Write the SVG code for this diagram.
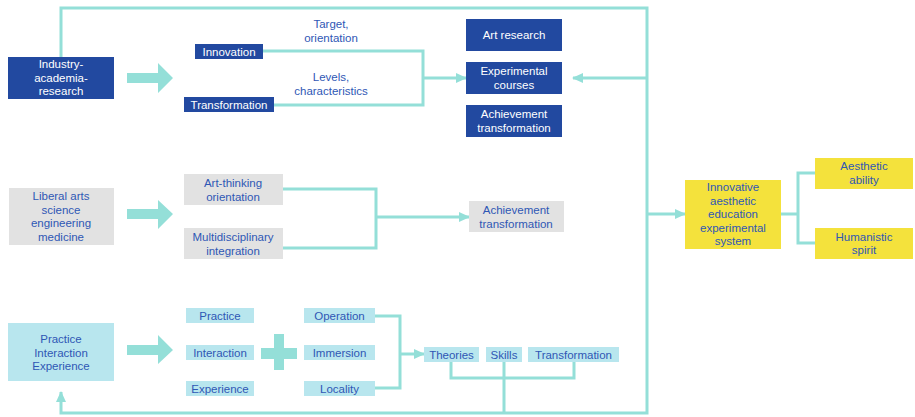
<svg xmlns="http://www.w3.org/2000/svg" width="915" height="417" viewBox="0 0 915 417">
<defs>
<style>
text{font-family:"Liberation Sans",Arial,sans-serif;font-size:11.5px;text-anchor:middle}
.dk rect{fill:#2249a0}
.dk text{fill:#ffffff}
.gy rect{fill:#e2e2e2}
.gy text{fill:#2f57b5}
.cy rect{fill:#b8e6ee}
.cy text{fill:#2f57b5}
.yl rect{fill:#f4e23c}
.yl text{fill:#2f57b5}
.lbl{fill:#2f57b5}
.ln{fill:none;stroke:#94dfd8;stroke-width:3}
.big{fill:#94dfd8}
</style>
<marker id="ah" markerUnits="userSpaceOnUse" markerWidth="12" markerHeight="12" refX="10" refY="5" orient="auto">
<path d="M0,0 L11,5 L0,10 Z" fill="#94dfd8"/>
</marker>
</defs>

<g id="connectors">
<path class="ln" d="M61,57 V8 H647 V413 H61 V392" marker-end="url(#ah)"/>
<path class="ln" d="M647,78 H573" marker-end="url(#ah)"/>
<path class="ln" d="M647,214 H685" marker-end="url(#ah)"/>
<path class="ln" d="M263,51 H423 V105 H274"/>
<path class="ln" d="M423,78 H466" marker-end="url(#ah)"/>
<path class="ln" d="M283,189 H376 V248 H283"/>
<path class="ln" d="M376,217 H469" marker-end="url(#ah)"/>
<path class="ln" d="M781,214 H798 M815,173 H798 V243 H815"/>
<path class="ln" d="M375,316 H400 V388 H375"/>
<path class="ln" d="M400,354 H424" marker-end="url(#ah)"/>
<path class="ln" d="M451,362 V378 H574 V362 M504,362 V413"/>
<polygon class="big" points="127,73 158,73 158,63 173,78 158,93 158,83 127,83"/>
<polygon class="big" points="127,209 158,209 158,200 173,214 158,229 158,219 127,219"/>
<polygon class="big" points="127,345 158,345 158,335 173,350 158,364 158,355 127,355"/>
<path class="big" d="M261,348 H274 V334 H284 V348 H297 V359 H284 V370 H274 V359 H261 Z"/>
</g>

<g id="labels">
<text class="lbl" x="331" y="28">Target,</text>
<text class="lbl" x="331" y="41.5">orientation</text>
<text class="lbl" x="331" y="81">Levels,</text>
<text class="lbl" x="331" y="94.5">characteristics</text>
</g>

<g id="industry" class="dk"><rect x="8" y="57" width="106" height="42"/>
<text x="61" y="68">Industry-</text><text x="61" y="81.5">academia-</text><text x="61" y="95">research</text></g>
<g id="innovation" class="dk"><rect x="195" y="44" width="68" height="15"/><text x="229" y="55.5">Innovation</text></g>
<g id="transformation1" class="dk"><rect x="184" y="97" width="90" height="15"/><text x="229" y="108.5">Transformation</text></g>
<g id="artresearch" class="dk"><rect x="466" y="19" width="96" height="32"/><text x="514" y="39">Art research</text></g>
<g id="expcourses" class="dk"><rect x="466" y="62" width="96" height="32"/><text x="514" y="75">Experimental</text><text x="514" y="89">courses</text></g>
<g id="achtrans1" class="dk"><rect x="466" y="105" width="96" height="32"/><text x="514" y="118">Achievement</text><text x="514" y="132">transformation</text></g>

<g id="liberal" class="gy"><rect x="9" y="188" width="105" height="57"/>
<text x="61" y="200">Liberal arts</text><text x="61" y="213.5">science</text><text x="61" y="227">engineering</text><text x="61" y="240.5">medicine</text></g>
<g id="artthinking" class="gy"><rect x="184" y="174" width="99" height="31"/><text x="233" y="187">Art-thinking</text><text x="233" y="200.5">orientation</text></g>
<g id="multidisc" class="gy"><rect x="184" y="228" width="99" height="31"/><text x="233" y="241">Multidisciplinary</text><text x="233" y="254.5">integration</text></g>
<g id="achtrans2" class="gy"><rect x="469" y="201" width="95" height="31"/><text x="516" y="214">Achievement</text><text x="516" y="227.5">transformation</text></g>

<g id="innovative" class="yl"><rect x="685" y="180" width="96" height="69"/>
<text x="733" y="191">Innovative</text><text x="733" y="204.5">aesthetic</text><text x="733" y="218">education</text><text x="733" y="231.5">experimental</text><text x="733" y="245">system</text></g>
<g id="aesthetic" class="yl"><rect x="815" y="158" width="98" height="31"/><text x="864" y="170">Aesthetic</text><text x="864" y="184">ability</text></g>
<g id="humanistic" class="yl"><rect x="815" y="228" width="98" height="31"/><text x="864" y="240.5">Humanistic</text><text x="864" y="254">spirit</text></g>

<g id="practicebox" class="cy"><rect x="8" y="323" width="106" height="58"/>
<text x="61" y="343">Practice</text><text x="61" y="356.5">Interaction</text><text x="61" y="370">Experience</text></g>
<g id="practice" class="cy"><rect x="186" y="308" width="68" height="15"/><text x="220" y="319.5">Practice</text></g>
<g id="interaction" class="cy"><rect x="186" y="345" width="68" height="15"/><text x="220" y="356.5">Interaction</text></g>
<g id="experience" class="cy"><rect x="186" y="381" width="68" height="15"/><text x="220" y="392.5">Experience</text></g>
<g id="operation" class="cy"><rect x="304" y="308" width="71" height="15"/><text x="339.5" y="319.5">Operation</text></g>
<g id="immersion" class="cy"><rect x="304" y="345" width="71" height="15"/><text x="339.5" y="356.5">Immersion</text></g>
<g id="locality" class="cy"><rect x="304" y="381" width="71" height="15"/><text x="339.5" y="392.5">Locality</text></g>
<g id="theories" class="cy"><rect x="424" y="347" width="55" height="15"/><text x="451.5" y="358.5">Theories</text></g>
<g id="skills" class="cy"><rect x="486" y="347" width="36" height="15"/><text x="504" y="358.5">Skills</text></g>
<g id="transformation2" class="cy"><rect x="528" y="347" width="91" height="15"/><text x="573.5" y="358.5">Transformation</text></g>
</svg>
